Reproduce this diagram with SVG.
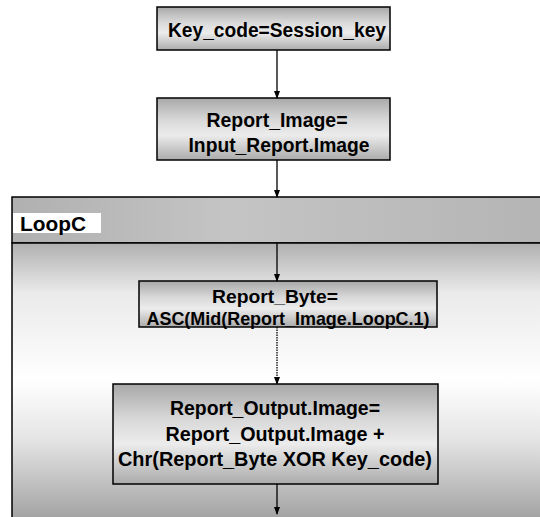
<svg xmlns="http://www.w3.org/2000/svg" width="540" height="517" viewBox="0 0 540 517">
  <defs>
    <!-- process box fill: grey edges, pale centre band -->
    <linearGradient id="boxFill" x1="0" y1="0" x2="0" y2="1">
      <stop offset="0" stop-color="#a8a8a8"/>
      <stop offset="0.35" stop-color="#d8d8d8"/>
      <stop offset="0.6" stop-color="#ececec"/>
      <stop offset="1" stop-color="#ababab"/>
    </linearGradient>
    <!-- loop header band -->
    <linearGradient id="headFill" x1="0" y1="0" x2="1" y2="0">
      <stop offset="0" stop-color="#b0b0b0"/>
      <stop offset="0.4" stop-color="#c4c4c4"/>
      <stop offset="1" stop-color="#b4b4b4"/>
    </linearGradient>
    <!-- loop body: grey at top and bottom, white in the middle -->
    <linearGradient id="bodyFill" x1="0" y1="243" x2="0" y2="517" gradientUnits="userSpaceOnUse">
      <stop offset="0" stop-color="#b0b0b0"/>
      <stop offset="0.18" stop-color="#eaeaea"/>
      <stop offset="0.5" stop-color="#ffffff"/>
      <stop offset="0.72" stop-color="#e4e4e4"/>
      <stop offset="1" stop-color="#a4a4a4"/>
    </linearGradient>
    <marker id="arrow" viewBox="0 0 8 8" refX="7" refY="4" markerWidth="8" markerHeight="8" markerUnits="userSpaceOnUse" orient="auto">
      <path d="M0,1 L8,4 L0,7 Z" fill="#000"/>
    </marker>
  </defs>
  <style>
    .box { fill: url(#boxFill); stroke: #000; stroke-width: 1.5; }
    .label { font-family: "Liberation Sans", Arial, sans-serif; font-size: 21px; font-weight: bold; fill: #000; text-anchor: middle; }
    .tight { font-size: 19px; }
    .edge { stroke: #000; stroke-width: 1.3; fill: none; marker-end: url(#arrow); }
    .dotted { stroke-dasharray: 1.5 1; }
  </style>

  <rect width="540" height="517" fill="#ffffff"/>

  <!-- loop container -->
  <g id="loopC">
    <rect x="12" y="197" width="540" height="46" fill="url(#headFill)" stroke="#000" stroke-width="1.5"/>
    <rect x="12" y="243" width="540" height="290" fill="url(#bodyFill)" stroke="#000" stroke-width="1.5"/>
    <rect x="13" y="213" width="88" height="20" fill="#ffffff"/>
    <text class="label" x="20" y="231" style="text-anchor:start" textLength="66" lengthAdjust="spacingAndGlyphs">LoopC</text>
  </g>

  <g id="n-key">
    <rect class="box" x="157" y="7" width="233" height="43"/>
    <text class="label" x="277" y="37" textLength="218" lengthAdjust="spacingAndGlyphs">Key_code=Session_key</text>
  </g>

  <g id="n-image">
    <rect class="box" x="157" y="98" width="233" height="62"/>
    <text class="label" x="277" y="127" textLength="141" lengthAdjust="spacingAndGlyphs">Report_Image=</text>
    <text class="label" x="279" y="152" textLength="181" lengthAdjust="spacingAndGlyphs">Input_Report.Image</text>
  </g>

  <g id="n-byte">
    <rect class="box" x="139" y="281" width="298" height="46"/>
    <text class="label tight" x="275" y="303" textLength="126" lengthAdjust="spacingAndGlyphs">Report_Byte=</text>
    <text class="label tight" x="288" y="325" textLength="283" lengthAdjust="spacingAndGlyphs">ASC(Mid(Report_Image.LoopC.1)</text>
  </g>

  <g id="n-output">
    <rect class="box" x="113" y="384" width="325" height="100"/>
    <text class="label" x="275" y="415" textLength="210" lengthAdjust="spacingAndGlyphs">Report_Output.Image=</text>
    <text class="label" x="275" y="441" textLength="219" lengthAdjust="spacingAndGlyphs">Report_Output.Image +</text>
    <text class="label" x="275" y="466" textLength="314" lengthAdjust="spacingAndGlyphs">Chr(Report_Byte XOR Key_code)</text>
  </g>

  <g id="connectors">
    <line class="edge" x1="277" y1="50" x2="277" y2="98"/>
    <line class="edge" x1="277" y1="160" x2="277" y2="197"/>
    <line class="edge" x1="277" y1="243" x2="277" y2="281"/>
    <line class="edge dotted" x1="277" y1="327" x2="277" y2="384"/>
    <line class="edge" x1="277" y1="484" x2="277" y2="514"/>
  </g>
</svg>
